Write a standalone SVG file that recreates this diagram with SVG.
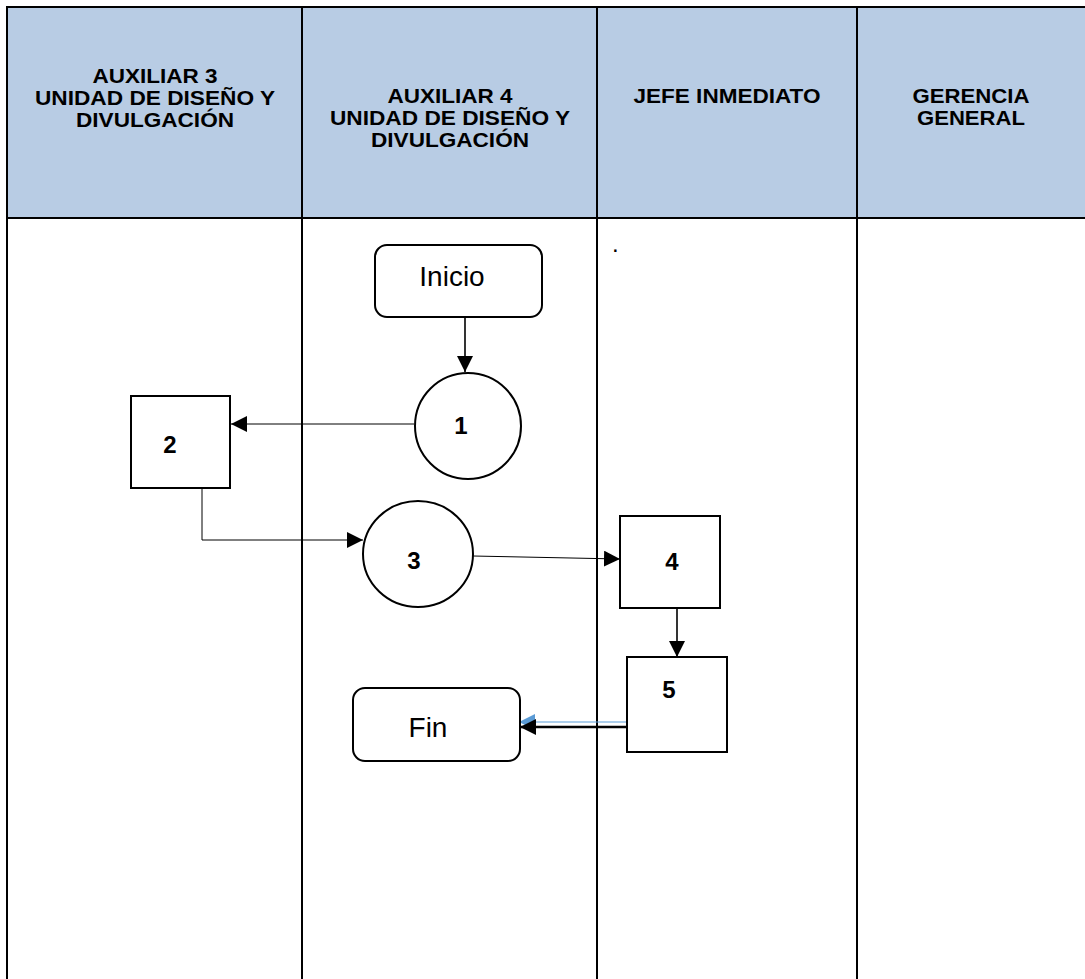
<svg xmlns="http://www.w3.org/2000/svg" width="1085" height="979" viewBox="0 0 1085 979">
  <style>
    .hdr { font-family: "Liberation Sans", Arial, sans-serif; font-weight: bold; font-size: 20px; fill: #000; text-anchor: middle; }
    .num { font-family: "Liberation Sans", Arial, sans-serif; font-weight: bold; font-size: 24px; fill: #000; text-anchor: middle; }
    .lbl { font-family: "Liberation Sans", Arial, sans-serif; font-size: 28px; fill: #000; text-anchor: middle; }
    .dot { font-family: "Liberation Sans", Arial, sans-serif; font-size: 24px; fill: #000; }
    .grid { stroke: #000; stroke-width: 2; fill: none; }
    .shape { fill: #fff; stroke: #000; stroke-width: 2; }
    .thin { stroke: #000; stroke-width: 1; fill: none; }
    .mid { stroke: #000; stroke-width: 1.6; fill: none; }
  </style>
  <defs>
    <marker id="arrow" viewBox="0 0 10 10" refX="10" refY="5" markerWidth="16" markerHeight="16" markerUnits="userSpaceOnUse" orient="auto">
      <path d="M0,0 L10,5 L0,10 z" fill="#000"/>
    </marker>
    <marker id="arrowBlue" viewBox="0 0 10 10" refX="10" refY="5" markerWidth="16" markerHeight="16" markerUnits="userSpaceOnUse" orient="auto">
      <path d="M0,0 L10,5 L0,10 z" fill="#5B9BD5"/>
    </marker>
  </defs>

  <rect width="1085" height="979" fill="#fff"/>

  <!-- swimlane table -->
  <g id="lanes">
    <rect x="7" y="7" width="1078" height="211" fill="#B8CCE4"/>
    <line class="grid" x1="6" y1="7" x2="1085" y2="7"/>
    <line class="grid" x1="6" y1="218" x2="1085" y2="218"/>
    <line class="grid" x1="7" y1="6" x2="7" y2="979"/>
    <line class="grid" x1="302" y1="7" x2="302" y2="979"/>
    <line class="grid" x1="597" y1="7" x2="597" y2="979"/>
    <line class="grid" x1="857" y1="7" x2="857" y2="979"/>

    <text class="hdr" x="155" y="83" textLength="125" lengthAdjust="spacingAndGlyphs">AUXILIAR 3</text>
    <text class="hdr" x="155" y="105" textLength="240" lengthAdjust="spacingAndGlyphs">UNIDAD DE DISEÑO Y</text>
    <text class="hdr" x="155" y="127" textLength="158" lengthAdjust="spacingAndGlyphs">DIVULGACIÓN</text>

    <text class="hdr" x="450" y="103" textLength="125" lengthAdjust="spacingAndGlyphs">AUXILIAR 4</text>
    <text class="hdr" x="450" y="125" textLength="240" lengthAdjust="spacingAndGlyphs">UNIDAD DE DISEÑO Y</text>
    <text class="hdr" x="450" y="147" textLength="158" lengthAdjust="spacingAndGlyphs">DIVULGACIÓN</text>

    <text class="hdr" x="727" y="103" textLength="187" lengthAdjust="spacingAndGlyphs">JEFE INMEDIATO</text>

    <text class="hdr" x="971" y="103" textLength="117" lengthAdjust="spacingAndGlyphs">GERENCIA</text>
    <text class="hdr" x="971" y="125" textLength="108" lengthAdjust="spacingAndGlyphs">GENERAL</text>

    <text class="dot" x="612" y="252">.</text>
  </g>

  <!-- connectors -->
  <g id="connectors">
    <line class="mid" x1="465" y1="318" x2="465" y2="372" marker-end="url(#arrow)"/>
    <line class="thin" x1="414" y1="424" x2="231" y2="424" marker-end="url(#arrow)"/>
    <polyline class="thin" points="202,485 202,540 363,540" marker-end="url(#arrow)"/>
    <line class="thin" x1="473" y1="556" x2="620" y2="559" marker-end="url(#arrow)"/>
    <line class="mid" x1="677" y1="609" x2="677" y2="657" marker-end="url(#arrow)"/>
    <line x1="627" y1="722" x2="519" y2="722" stroke="#5B9BD5" stroke-width="1.2" marker-end="url(#arrowBlue)"/>
    <line x1="627" y1="727" x2="520" y2="727" stroke="#000" stroke-width="2.5" marker-end="url(#arrow)"/>
  </g>

  <g id="inicio">
    <rect class="shape" x="375" y="245" width="167" height="72" rx="12"/>
    <text class="lbl" x="452" y="286">Inicio</text>
  </g>

  <g id="step1">
    <circle class="shape" cx="468" cy="426" r="53"/>
    <text class="num" x="461" y="434">1</text>
  </g>

  <g id="step2">
    <rect class="shape" x="131" y="396" width="99" height="92"/>
    <text class="num" x="170" y="453">2</text>
  </g>

  <g id="step3">
    <ellipse class="shape" cx="418" cy="554" rx="55" ry="53"/>
    <text class="num" x="414" y="569">3</text>
  </g>

  <g id="step4">
    <rect class="shape" x="620" y="516" width="100" height="92"/>
    <text class="num" x="672" y="570">4</text>
  </g>

  <g id="step5">
    <rect class="shape" x="627" y="657" width="100" height="95"/>
    <text class="num" x="669" y="698">5</text>
  </g>

  <g id="fin">
    <rect class="shape" x="353" y="688" width="167" height="73" rx="12"/>
    <text class="lbl" x="428" y="737">Fin</text>
  </g>
</svg>
